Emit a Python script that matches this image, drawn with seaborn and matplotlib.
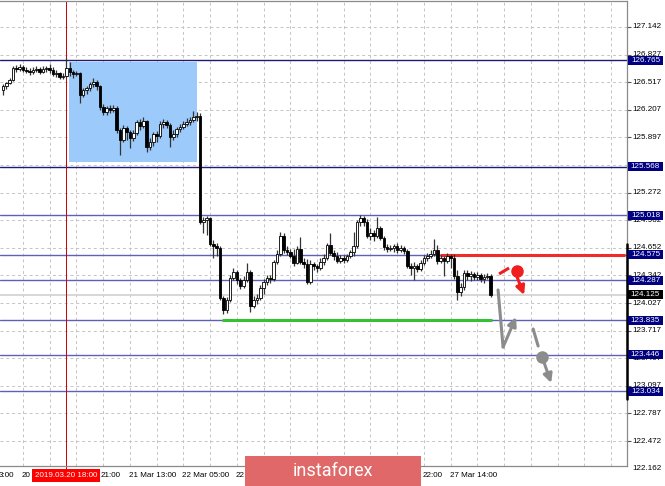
import numpy as np
import matplotlib
matplotlib.use("Agg")
import matplotlib.pyplot as plt
import matplotlib.transforms as mtransforms
from matplotlib.patches import Rectangle
import seaborn as sns

# H1 candles, bar 0 = 19 Mar 23:00 (weekend hours skipped)
opens = [
    126.431, 126.476, 126.510, 126.544, 126.679, 126.668, 126.691, 126.657, 126.646, 126.634,
    126.657, 126.668, 126.634, 126.668, 126.679, 126.657, 126.612, 126.623, 126.578, 126.589,
    126.679, 126.634, 126.612, 126.623, 126.375, 126.431, 126.454, 126.499, 126.521, 126.476,
    126.240, 126.183, 126.228, 126.206, 126.228, 125.980, 125.868, 126.003, 125.958, 125.890,
    125.947, 126.071, 126.025, 126.082, 125.789, 125.845, 125.935, 125.913, 126.048, 126.071,
    126.037, 125.902, 125.935, 125.992, 126.014, 126.048, 126.071, 126.093, 126.127, 126.138,
    124.943, 124.966, 124.988, 124.695, 124.673, 124.650, 124.086, 123.951, 124.064, 124.312,
    124.379, 124.289, 124.222, 124.289, 124.379, 123.996, 124.064, 124.086, 124.199, 124.267,
    124.312, 124.301, 124.492, 124.582, 124.785, 124.627, 124.605, 124.560, 124.481, 124.639,
    124.492, 124.470, 124.267, 124.470, 124.447, 124.425, 124.492, 124.537, 124.684, 124.594,
    124.560, 124.503, 124.537, 124.515, 124.560, 124.605, 124.673, 124.943, 124.988, 124.943,
    124.785, 124.819, 124.785, 124.876, 124.763, 124.661, 124.639, 124.650, 124.673, 124.627,
    124.650, 124.616, 124.447, 124.425, 124.447, 124.413, 124.481, 124.537, 124.560, 124.582,
    124.627, 124.503, 124.537, 124.503, 124.560, 124.537, 124.334, 124.154, 124.210, 124.368,
    124.334, 124.357, 124.323, 124.346, 124.301, 124.323, 124.334,
]
highs = [
    126.499, 126.521, 126.567, 126.702, 126.713, 126.724, 126.713, 126.691, 126.679, 126.691,
    126.702, 126.691, 126.702, 126.702, 126.724, 126.691, 126.657, 126.634, 126.623, 126.792,
    126.747, 126.657, 126.646, 126.634, 126.454, 126.476, 126.521, 126.567, 126.544, 126.488,
    126.273, 126.251, 126.262, 126.262, 126.251, 126.003, 126.037, 126.025, 125.980, 125.980,
    126.093, 126.104, 126.127, 126.093, 125.890, 125.958, 125.969, 126.082, 126.104, 126.093,
    126.059, 125.980, 126.014, 126.048, 126.082, 126.116, 126.127, 126.195, 126.183, 126.172,
    125.000, 125.011, 125.000, 124.740, 124.706, 124.673, 124.109, 124.098, 124.346, 124.425,
    124.402, 124.312, 124.334, 124.481, 124.402, 124.109, 124.131, 124.233, 124.301, 124.346,
    124.346, 124.515, 124.627, 124.830, 124.819, 124.673, 124.639, 124.639, 124.673, 124.774,
    124.537, 124.526, 124.515, 124.492, 124.470, 124.537, 124.582, 124.706, 124.819, 124.627,
    124.605, 124.571, 124.571, 124.582, 124.627, 124.830, 124.966, 125.022, 125.011, 124.977,
    124.876, 124.853, 125.000, 124.898, 124.785, 124.695, 124.684, 124.695, 124.706, 124.684,
    124.673, 124.639, 124.481, 124.492, 124.470, 124.515, 124.571, 124.594, 124.627, 124.752,
    124.684, 124.571, 124.560, 124.594, 124.582, 124.582, 124.402, 124.255, 124.402, 124.402,
    124.391, 124.379, 124.379, 124.368, 124.357, 124.368, 124.357,
]
lows = [
    126.375, 126.443, 126.499, 126.533, 126.634, 126.646, 126.634, 126.623, 126.600, 126.612,
    126.634, 126.612, 126.623, 126.634, 126.623, 126.589, 126.578, 126.555, 126.555, 126.567,
    126.589, 126.567, 126.589, 126.285, 126.352, 126.386, 126.420, 126.465, 126.431, 126.206,
    126.149, 126.149, 126.172, 126.183, 125.947, 125.698, 125.845, 125.868, 125.777, 125.856,
    125.924, 125.980, 126.003, 125.732, 125.755, 125.800, 125.845, 125.890, 126.003, 126.003,
    125.789, 125.868, 125.902, 125.958, 125.992, 126.025, 126.037, 126.071, 126.082, 124.921,
    124.819, 124.797, 124.673, 124.537, 124.560, 124.064, 123.906, 123.917, 124.041, 124.289,
    124.244, 124.188, 124.199, 124.267, 123.928, 123.974, 124.019, 124.064, 124.131, 124.233,
    124.255, 124.278, 124.470, 124.560, 124.594, 124.571, 124.537, 124.447, 124.470, 124.470,
    124.425, 124.244, 124.244, 124.402, 124.379, 124.402, 124.458, 124.515, 124.571, 124.515,
    124.481, 124.481, 124.481, 124.492, 124.537, 124.560, 124.650, 124.898, 124.898, 124.763,
    124.740, 124.729, 124.763, 124.740, 124.627, 124.605, 124.616, 124.605, 124.594, 124.605,
    124.582, 124.425, 124.346, 124.289, 124.379, 124.391, 124.458, 124.503, 124.537, 124.560,
    124.470, 124.481, 124.334, 124.481, 124.425, 124.301, 124.064, 124.109, 124.177, 124.289,
    124.278, 124.289, 124.289, 124.267, 124.255, 124.301, 124.098,
]
closes = [
    126.476, 126.510, 126.544, 126.679, 126.668, 126.691, 126.657, 126.646, 126.634, 126.657,
    126.668, 126.634, 126.668, 126.679, 126.657, 126.612, 126.623, 126.578, 126.589, 126.679,
    126.634, 126.612, 126.623, 126.375, 126.431, 126.454, 126.499, 126.521, 126.476, 126.240,
    126.183, 126.228, 126.206, 126.228, 125.980, 125.868, 126.003, 125.958, 125.890, 125.947,
    126.071, 126.025, 126.082, 125.789, 125.845, 125.935, 125.913, 126.048, 126.071, 126.037,
    125.902, 125.935, 125.992, 126.014, 126.048, 126.071, 126.093, 126.127, 126.138, 124.943,
    124.966, 124.988, 124.695, 124.673, 124.650, 124.086, 123.951, 124.064, 124.312, 124.379,
    124.289, 124.222, 124.289, 124.379, 123.996, 124.064, 124.086, 124.199, 124.267, 124.312,
    124.301, 124.492, 124.582, 124.785, 124.627, 124.605, 124.560, 124.481, 124.639, 124.492,
    124.470, 124.267, 124.470, 124.447, 124.425, 124.492, 124.537, 124.684, 124.594, 124.560,
    124.503, 124.537, 124.515, 124.560, 124.605, 124.673, 124.943, 124.988, 124.943, 124.785,
    124.819, 124.785, 124.876, 124.763, 124.661, 124.639, 124.650, 124.673, 124.627, 124.650,
    124.616, 124.447, 124.425, 124.447, 124.413, 124.481, 124.537, 124.560, 124.582, 124.627,
    124.503, 124.537, 124.503, 124.560, 124.537, 124.334, 124.154, 124.210, 124.368, 124.334,
    124.357, 124.323, 124.346, 124.301, 124.323, 124.334, 124.125,
]

# right scale (125.582 sits fully under the 125.568 tag, so it is not shown)
price_ticks = [127.142, 126.827, 126.517, 126.207, 125.897, 125.272, 124.962,
               124.652, 124.342, 124.027, 123.717, 123.407, 123.097, 122.787, 122.472, 122.162]
levels = [126.765, 125.568, 125.018, 124.575, 124.287, 123.835, 123.446, 123.034]
level_colors = ["#1c1c78", "#1c1c78", "#6060b8", "#6060b8", "#6060b8", "#6060b8", "#6060b8", "#6060b8"]
last_price = 124.125

# time scale: ticks every 16 bars, only the parts of labels not hidden by the boxes
tick_bars = [6, 22, 38, 54, 70, 86, 102, 118, 134]
label_bars = [-0.9, 6, 29.4, 38, 54, 70, 126.0, 134]
label_texts = ["3:00", "20", "21:00", "21 Mar 13:00", "22 Mar 05:00", "22", "22:00", "27 Mar 14:00"]
cursor_bar = 19
cursor_label = "2019.03.20 18:00"

# consolidation box, support / resistance marks
box_bars = (19.8, 58.1)
box_prices = (125.620, 126.747)
resist_line = (130.8, 186.2, 124.575)
support_line = (65.6, 146.4, 123.835)

sns.set_style("white")
plt.rcParams["font.family"] = ["Liberation Sans", "DejaVu Sans"]
fs = 5.8

fig = plt.figure(figsize=(6.65, 4.86), dpi=100)
ax = fig.add_axes([0, 20 / 486, 627 / 665, 465 / 486])
ax.set_xlim(-0.9, 186.8)
ax.set_ylim(122.1923, 127.4347)
ty = mtransforms.blended_transform_factory(ax.transAxes, ax.transData)
tx = mtransforms.blended_transform_factory(ax.transData, ax.transAxes)

# grid
for p in price_ticks + [125.582]:
    ax.axhline(p, color="#c4c4c4", lw=0.7, ls=(0, (3, 3)), zorder=0)
for b in range(6, 187, 8):
    ax.axvline(b, color="#c4c4c4", lw=0.7, ls=(0, (3, 3)), zorder=0)

ax.add_patch(Rectangle((box_bars[0], box_prices[0]), box_bars[1] - box_bars[0],
                       box_prices[1] - box_prices[0], facecolor="#9ccafa", edgecolor="none", zorder=1))

for lv, col in zip(levels, level_colors):
    ax.axhline(lv, color=col, lw=1.0, zorder=2)
ax.axhline(last_price, color="#d4d4d4", lw=1.3, zorder=1.5)
ax.plot(resist_line[:2], [resist_line[2]] * 2, color="#f22a2a", lw=2.2, solid_capstyle="butt", zorder=2.5)
ax.plot(support_line[:2], [support_line[2]] * 2, color="#35c035", lw=2.2, solid_capstyle="butt", zorder=2.5)

ax.axvline(cursor_bar, color="#c80000", lw=0.7, zorder=2)
ax.plot([cursor_bar, cursor_bar], [0, -0.012], transform=tx, color="#c80000", lw=0.7, clip_on=False)

# candles
x = np.arange(len(closes))
o = np.array(opens)
c = np.array(closes)
up = c >= o
ax.vlines(x, lows, highs, color="#333333", lw=0.9, zorder=3)
ax.bar(x[up], np.maximum(c - o, 0.004)[up], bottom=o[up], width=0.78,
       color="white", edgecolor="black", lw=0.6, zorder=4)
ax.bar(x[~up], (o - c)[~up], bottom=c[~up], width=0.78,
       color="black", edgecolor="black", lw=0.6, zorder=4)

# forecast arrows
red = "#f01e1e"
grey = "#8c8c8c"
ax.plot([148.5, 151.5], [124.357, 124.425], color=red, lw=2.2, solid_capstyle="butt", zorder=5)
ax.plot([153.9], [124.391], "o", color=red, ms=8, zorder=5)
ax.annotate("", xy=(156.0, 124.120), xytext=(153.3, 124.380),
            arrowprops=dict(arrowstyle="-|>", color=red, lw=2.2, mutation_scale=13, shrinkA=0, shrinkB=0), zorder=5)
ax.plot([148.2, 149.7], [124.177, 123.534], color=grey, lw=2.2, zorder=5)
ax.annotate("", xy=(153.6, 123.872), xytext=(149.7, 123.534),
            arrowprops=dict(arrowstyle="-|>", color=grey, lw=2.2, mutation_scale=13, shrinkA=0, shrinkB=0), zorder=5)
ax.plot([158.7, 160.2], [123.737, 123.545], color=grey, lw=2.2, zorder=5)
ax.plot([161.4], [123.421], "o", color=grey, ms=8, zorder=5)
ax.annotate("", xy=(164.1, 123.128), xytext=(161.4, 123.421),
            arrowprops=dict(arrowstyle="-|>", color=grey, lw=2.2, mutation_scale=13, shrinkA=0, shrinkB=0), zorder=5)

# frame
for side in ["top", "right", "bottom"]:
    ax.spines[side].set_color("#8a8a8a")
    ax.spines[side].set_linewidth(0.9)
ax.spines["left"].set_visible(False)
ax.plot([1, 1], [124.70, 122.95], transform=ty, color="black", lw=1.8, clip_on=False, zorder=6)

ax.yaxis.tick_right()
ax.set_yticks([p for p in price_ticks if p > 122.1923])
ax.set_yticklabels([])
ax.set_xticks(tick_bars)
ax.set_xticklabels([])
ax.tick_params(axis="both", length=3, width=0.8, color="#555555", direction="out")

for p in price_ticks:
    ax.text(1.009, p, f"{p:.3f}", transform=ty, ha="left", va="center", fontsize=fs,
            color="black", clip_on=False, zorder=5)
for b, lab in zip(label_bars, label_texts):
    ax.text(b - 0.3, -0.021, lab, transform=tx, ha="left", va="center", fontsize=fs,
            color="black", clip_on=False, zorder=5)


def tag(price, txt, bg):
    ax.add_patch(Rectangle((1.0016, price - 0.05), 0.056, 0.10, transform=ty, facecolor=bg,
                           edgecolor="none", clip_on=False, zorder=7))
    ax.text(1.0295, price, txt, transform=ty, ha="center", va="center", fontsize=fs,
            color="white", clip_on=False, zorder=8)


for lv in levels:
    tag(lv, f"{lv:.3f}", "#000080")
tag(last_price, f"{last_price:.3f}", "black")

ax.text(cursor_bar, -0.021, cursor_label, transform=tx, ha="center", va="center", fontsize=fs,
        color="white", clip_on=False, zorder=8,
        bbox=dict(boxstyle="square,pad=0.35", facecolor="#ff0000", edgecolor="none"))

# watermark
fig.patches.append(Rectangle((245 / 665, 0), 176 / 665, 30 / 486, transform=fig.transFigure,
                             facecolor="#e06868", edgecolor="none", zorder=10))
fig.text(333 / 665, 15 / 486, "instaforex", ha="center", va="center", fontsize=13,
         color="white", family=["Roboto", "DejaVu Sans"], zorder=11)

fig.savefig("out.png", dpi=100)
